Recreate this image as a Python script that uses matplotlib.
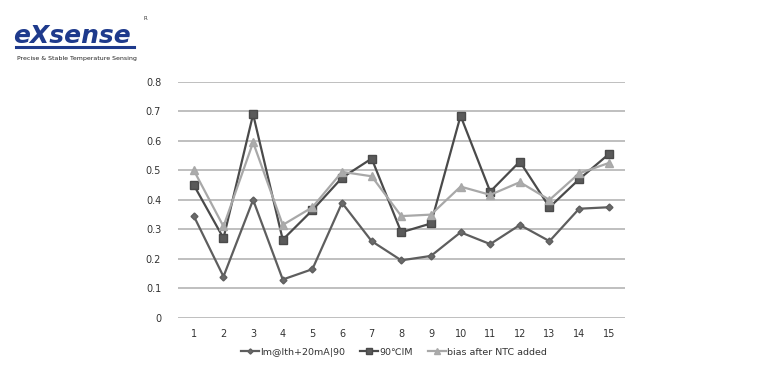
import numpy as np
import matplotlib
matplotlib.use("Agg")
from matplotlib import pyplot as plt
from matplotlib.lines import Line2D

# sample index
samples = list(range(1, 16))
# values
im_ith = [0.345, 0.14, 0.40, 0.13, 0.165, 0.39, 0.26, 0.195, 0.21, 0.29, 0.25, 0.315, 0.26, 0.37, 0.375]
im_90c = [0.45, 0.27, 0.69, 0.265, 0.365, 0.475, 0.54, 0.29, 0.32, 0.685, 0.428, 0.53, 0.375, 0.47, 0.555]
bias_ntc = [0.50, 0.31, 0.595, 0.315, 0.375, 0.495, 0.48, 0.345, 0.35, 0.445, 0.417, 0.46, 0.40, 0.49, 0.525]
yticks = [0, 0.1, 0.2, 0.3, 0.4, 0.5, 0.6, 0.7, 0.8]
labels = ["Im@Ith+20mA|90", "90\u2103IM", "bias after NTC added"]

plt.rcParams['font.family'] = ['DejaVu Sans']

fig = plt.figure(figsize=(7.8, 3.9), dpi=100)
ax = fig.add_axes([0.228, 0.185, 0.573, 0.605])

ax.plot(samples, im_ith, color='#5e5e5e', lw=1.6, marker='D', ms=3.5,
        mec='#5e5e5e', mfc='#6a6a6a', label=labels[0], zorder=3)
ax.plot(samples, im_90c, color='#4a4a4a', lw=1.6, marker='s', ms=6,
        mec='#4a4a4a', mfc='#5a5a5a', label=labels[1], zorder=4)
ax.plot(samples, bias_ntc, color='#a8a8a8', lw=1.6, marker='^', ms=6,
        mec='#a8a8a8', mfc='#acacac', label=labels[2], zorder=5)

ax.set_xlim(0.46, 15.54)
ax.set_ylim(0, 0.8)
ax.set_xticks(samples)
ax.set_yticks(yticks)
ax.set_yticklabels([str(t) if t != 0 else "0" for t in yticks])
ax.grid(axis='y', color='#b4b4b4', lw=1.2)
ax.set_axisbelow(True)
for s in ax.spines.values():
    s.set_visible(False)
ax.tick_params(length=0, labelsize=7, colors='#333333', pad=8)
ax.tick_params(axis='y', pad=12)

fig.legend(loc='center', bbox_to_anchor=(0.505, 0.097), ncol=3, frameon=False,
           fontsize=6.8, labelcolor='#333333', handlelength=1.9, columnspacing=1.6,
           handletextpad=0.15, markerscale=0.75)

# logo
fig.text(0.017, 0.89, "eXsense", fontsize=18, fontweight='bold', style='italic',
         color='#1e3a8c', ha='left', va='baseline')
fig.add_artist(Line2D([0.02, 0.172], [0.88, 0.88], color='#1e3a8c', lw=2.2))
fig.text(0.184, 0.95, "R", fontsize=4, color='#333333')
fig.text(0.022, 0.85, "Precise & Stable Temperature Sensing", fontsize=4.5,
         color='#222222', ha='left', va='center')

fig.savefig("out.png", dpi=100)
